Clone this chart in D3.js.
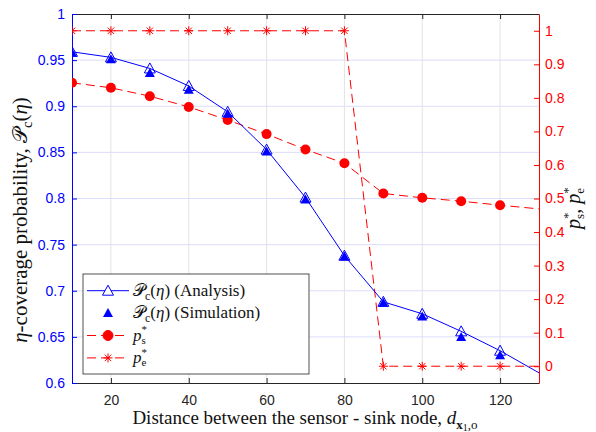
<!DOCTYPE html>
<html>
<head>
<meta charset="utf-8">
<script src="https://cdn.jsdelivr.net/npm/d3@7"></script>
<style>
    body { margin: 0; background: #fff; }
    .tick text { font-family: "Liberation Sans", Arial, sans-serif; font-size: 14px; }
    .lbl { font-family: "Liberation Serif", "Times New Roman", serif; }
</style>
</head>
<body>
<div id="GUI"></div>
<script>
// distance between sensor and sink node
const distance = [10, 20, 30, 40, 50, 60, 70, 80, 90, 100, 110, 120, 130];
// eta-coverage probability (left axis)
const analysis = [0.959, 0.953, 0.941, 0.922, 0.894, 0.853, 0.801, 0.738, 0.688, 0.675, 0.656, 0.635, 0.611];
const simulation = [0.958, 0.951, 0.936, 0.918, 0.892, 0.851, 0.799, 0.737, 0.687, 0.672, 0.650, 0.630];
// optimal probabilities (right axis)
const ps = [0.845, 0.830, 0.805, 0.773, 0.734, 0.692, 0.646, 0.605, 0.515, 0.502, 0.492, 0.480, 0.469];
const pe = [1, 1, 1, 1, 1, 1, 1, 1, 0, 0, 0, 0, 0];

const xTicks = [20, 40, 60, 80, 100, 120];
const leftTicks = [0.6, 0.65, 0.7, 0.75, 0.8, 0.85, 0.9, 0.95, 1];
const rightTicks = [0, 0.1, 0.2, 0.3, 0.4, 0.5, 0.6, 0.7, 0.8, 0.9, 1];

const width = 596, height = 432;
const margin = {top: 14, right: 57, bottom: 49, left: 72};
const blue = "#0000ff", red = "#ff0000", frame = "#262626";

let svg = d3.select("#GUI").append("svg")
    .attr("width", width)
    .attr("height", height);

let x = d3.scaleLinear().domain([10, 130]).range([margin.left, width - margin.right]);
let yL = d3.scaleLinear().domain([0.6, 1]).range([height - margin.bottom, margin.top]);
let yR = d3.scaleLinear().domain([-0.05, 1.05]).range([height - margin.bottom, margin.top]);

svg.append("defs").append("clipPath").attr("id", "plotClip")
    .append("rect")
    .attr("x", margin.left).attr("y", margin.top)
    .attr("width", width - margin.left - margin.right)
    .attr("height", height - margin.top - margin.bottom);

/*
GRID
 */
svg.append("g").selectAll("line")
    .data(xTicks)
    .enter().append("line")
    .attr("x1", d => x(d)).attr("x2", d => x(d))
    .attr("y1", margin.top).attr("y2", height - margin.bottom)
    .attr("stroke", "#e3e3e3");

svg.append("g").selectAll("line")
    .data(leftTicks.slice(1, -1))
    .enter().append("line")
    .attr("x1", margin.left).attr("x2", width - margin.right)
    .attr("y1", d => yL(d)).attr("y2", d => yL(d))
    .attr("stroke", "#dcdcfb");

/*
AXES
 */
function styleAxis(g, color) {
    g.selectAll("path").attr("stroke", color);
    g.selectAll("line").attr("stroke", color);
    g.selectAll("text").attr("fill", color);
}

svg.append("g")
    .attr("transform", "translate(0," + (height - margin.bottom) + ")")
    .call(d3.axisBottom(x).tickValues(xTicks).tickSizeInner(-5).tickSizeOuter(0).tickPadding(12))
    .call(g => styleAxis(g, frame));

svg.append("g")
    .attr("transform", "translate(0," + margin.top + ")")
    .call(d3.axisTop(x).tickValues(xTicks).tickSizeInner(-5).tickSizeOuter(0).tickFormat(""))
    .call(g => styleAxis(g, frame));

svg.append("g")
    .attr("transform", "translate(" + margin.left + ",0)")
    .call(d3.axisLeft(yL).tickValues(leftTicks).tickSizeInner(-5).tickSizeOuter(0).tickPadding(7)
        .tickFormat(d3.format(".2~f")))
    .call(g => styleAxis(g, blue));

svg.append("g")
    .attr("transform", "translate(" + (width - margin.right) + ",0)")
    .call(d3.axisRight(yR).tickValues(rightTicks).tickSizeInner(-5).tickSizeOuter(0).tickPadding(6)
        .tickFormat(d3.format(".1~f")))
    .call(g => styleAxis(g, red));

/*
SERIES
 */
let plot = svg.append("g").attr("clip-path", "url(#plotClip)");

let anaPts = distance.map((d, i) => ({x: d, y: analysis[i]}));
let simPts = simulation.map((v, i) => ({x: distance[i], y: v}));
let psPts = distance.map((d, i) => ({x: d, y: ps[i]}));
let pePts = distance.map((d, i) => ({x: d, y: pe[i]}));

let lineL = d3.line().x(d => x(d.x)).y(d => yL(d.y));
let lineR = d3.line().x(d => x(d.x)).y(d => yR(d.y));

const triOpen = "M0,-5.5L5.5,4.5L-5.5,4.5Z";
const triFill = "M0,-5L5,4L-5,4Z";
const star = "M-4.5,0H4.5M0,-4.5V4.5M-3.2,-3.2L3.2,3.2M-3.2,3.2L3.2,-3.2";

function drawPsMarker(g) {
    g.append("circle").attr("r", 5).attr("fill", red).attr("stroke", red);
}
function drawPeMarker(g) {
    g.append("path").attr("d", star).attr("stroke", red).attr("fill", "none");
}

plot.append("path").datum(psPts)
    .attr("d", lineR).attr("fill", "none").attr("stroke", red).attr("stroke-dasharray", "9,5");
plot.append("path").datum(pePts)
    .attr("d", lineR).attr("fill", "none").attr("stroke", red).attr("stroke-dasharray", "9,5");
plot.append("path").datum(anaPts)
    .attr("d", lineL).attr("fill", "none").attr("stroke", blue);

// markers at the right edge (130) are not shown in the figure
plot.selectAll("psMark")
    .data(psPts.filter(d => d.x < 130))
    .enter().append("circle")
    .attr("cx", d => x(d.x)).attr("cy", d => yR(d.y))
    .attr("r", 5).attr("fill", red);

plot.selectAll("peMark")
    .data(pePts.filter(d => d.x < 130))
    .enter().append("path")
    .attr("transform", d => "translate(" + x(d.x) + "," + yR(d.y) + ")")
    .attr("d", star).attr("stroke", red).attr("fill", "none");

plot.selectAll("simMark")
    .data(simPts)
    .enter().append("path")
    .attr("transform", d => "translate(" + x(d.x) + "," + yL(d.y) + ")")
    .attr("d", triFill).attr("fill", blue);

plot.selectAll("anaMark")
    .data(anaPts.filter(d => d.x < 130))
    .enter().append("path")
    .attr("transform", d => "translate(" + x(d.x) + "," + yL(d.y) + ")")
    .attr("d", triOpen).attr("fill", "none").attr("stroke", blue);

/*
LABELS
 */
function pc(t, size) {
    t.append("tspan").text("\uD835\uDCAB");
    t.append("tspan").attr("font-size", size * 0.7).attr("dy", size * 0.25).text("c");
    t.append("tspan").attr("dy", -size * 0.25).text("(");
    t.append("tspan").attr("font-style", "italic").text("\u03B7");
    t.append("tspan").text(")");
}

// p with stacked star superscript and subscript (leaves baseline shifted by 0.2*size)
function pStar(t, sub, size, small) {
    t.append("tspan").attr("font-style", "italic").text("p");
    t.append("tspan").attr("font-size", small).attr("dy", -size * 0.42).text("*");
    t.append("tspan").attr("font-size", small).attr("dx", -small * 0.5).attr("dy", size * 0.62).text(sub);
}

let xl = svg.append("text").attr("class", "lbl")
    .attr("x", 305).attr("y", 424)
    .attr("text-anchor", "middle").attr("font-size", 19).attr("fill", "#111");
xl.append("tspan").text("Distance between the sensor - sink node, ");
xl.append("tspan").attr("font-style", "italic").text("d");
xl.append("tspan").attr("font-size", 13).attr("dy", 5).attr("font-weight", "bold").text("x");
xl.append("tspan").attr("font-size", 10).attr("dy", 2).text("1");
xl.append("tspan").attr("font-size", 13).attr("dy", -2).text(",o");

// left label, centred on y = 220 from its drawn box
let yl = svg.append("text").attr("class", "lbl")
    .attr("transform", "translate(27,220) rotate(-90)")
    .attr("text-anchor", "middle").attr("font-size", 21).attr("fill", "#111");
yl.append("tspan").attr("font-style", "italic").text("\u03B7");
yl.append("tspan").text("-coverage probability, ");
pc(yl, 21);
let bb = yl.node().getBoundingClientRect();
let shift = 220 - (bb.top + bb.height / 2);
yl.attr("transform", "translate(27," + (220 + shift) + ") rotate(-90)");

let yr = svg.append("text").attr("class", "lbl")
    .attr("font-size", 20).attr("fill", "#111");
pStar(yr, "s", 20, 13);
yr.append("tspan").attr("dy", -20 * 0.2).text(", ");
pStar(yr, "e", 20, 13);
let yrLen = yr.node().getComputedTextLength();
yr.attr("transform", "translate(580," + (202 + yrLen / 2) + ") rotate(-90)");

/*
LEGEND
 */
const legendNames = ["(Analysis)", "(Simulation)", "s", "e"];
let legend = svg.append("g");
legend.append("rect")
    .attr("x", 83).attr("y", 274).attr("width", 226).attr("height", 100)
    .attr("fill", "#fff").attr("stroke", frame).attr("stroke-width", 0.8);

let rows = legend.selectAll("g.row")
    .data(legendNames)
    .enter().append("g")
    .attr("class", "row")
    .attr("transform", (d, i) => "translate(0," + (290.7 + i * 22.4) + ")");

rows.each(function (d, i) {
    let g = d3.select(this);
    if (i !== 1) {
        g.append("line").attr("x1", 87).attr("x2", 129).attr("y1", 0).attr("y2", 0)
            .attr("stroke", i === 0 ? blue : red)
            .attr("stroke-dasharray", i === 0 ? null : "9,5");
    }
    let m = g.append("g").attr("transform", "translate(108,0)");
    if (i === 0) m.append("path").attr("d", triOpen).attr("fill", "#fff").attr("stroke", blue);
    if (i === 1) m.append("path").attr("d", triFill).attr("fill", blue);
    if (i === 2) drawPsMarker(m);
    if (i === 3) drawPeMarker(m);

    let t = g.append("text").attr("class", "lbl")
        .attr("x", 133).attr("y", 5).attr("font-size", 17).attr("fill", "#111");
    if (i < 2) {
        pc(t, 17);
        t.append("tspan").text(" " + d);
    } else {
        pStar(t, d, 17, 11);
    }
});
</script>
</body>
</html>
